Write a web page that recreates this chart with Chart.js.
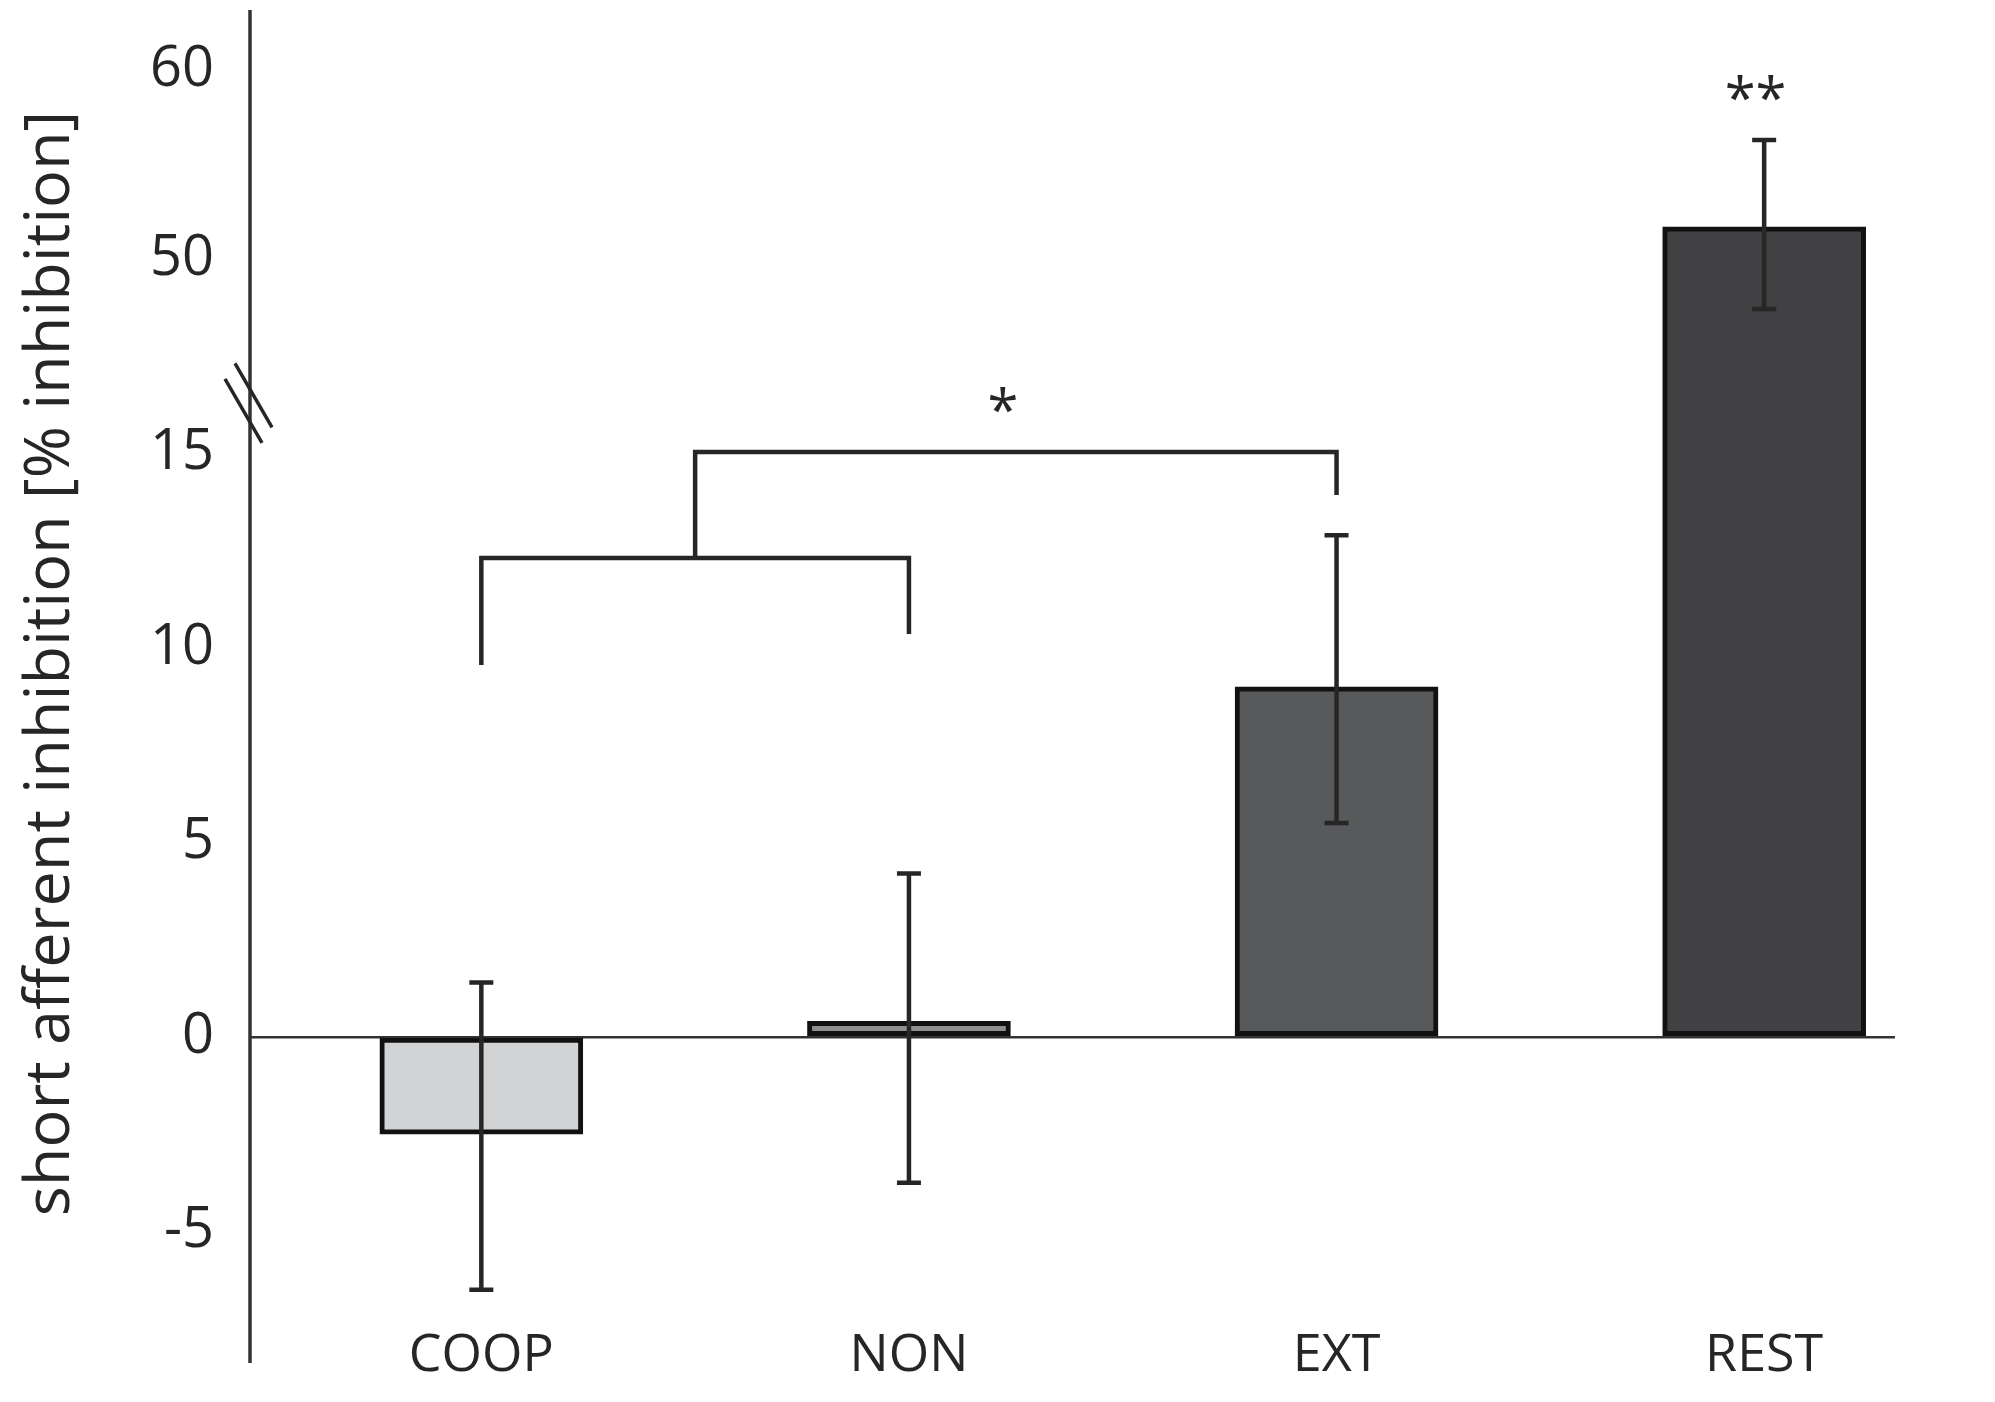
<!DOCTYPE html>
<html>
<head>
<meta charset="utf-8">
<script src="https://cdn.jsdelivr.net/npm/chart.js@4.4.1/dist/chart.umd.min.js"></script>
<style>
  html, body { margin: 0; padding: 0; background: #fff; }
  #wrap { width: 1995px; height: 1402px; }
</style>
</head>
<body>
<div id="wrap"><canvas id="saiChart"></canvas></div>
<script>
const categories = ['COOP', 'NON', 'EXT', 'REST'];
const meanSAI = [-2.5, 0.4, 9.0, 51.7];
const errUp = [3.9, 3.8, 3.9, 4.6];
const errDown = [4.0, 4.15, 3.5, 4.35];
const yTickLabels = [-5, 0, 5, 10, 15, 50, 60];
const barColors = ['#d1d3d4', '#8d8e90', '#58595b', '#414042'];

// significance brackets (category index, % inhibition) and stars
const brackets = [
  [[0, 9.56], [0, 12.31], [1, 12.31], [1, 10.36]],
  [[0.5, 12.31], [0.5, 15.04], [2, 15.04], [2, 13.93]]
];
const stars = [
  { text: '*', x: 1.22, y: 16.4 },
  { text: '**', x: 2.98, y: 59.1 }
];

// broken axis: 0..15 at full scale, 50..60 compressed right above
const breakLow = 15, breakHigh = 50, upperScale = 0.485;
function toAxis(v) { return v < 30 ? v : 20 + (v - breakHigh) * upperScale; }
function fromAxis(a) { return a <= breakLow ? a : Math.round(breakHigh + (a - 20) / upperScale); }

const ink = '#262626';

const overlay = {
  id: 'overlay',
  afterDatasetsDraw(chart) {
    const { ctx, chartArea, scales: { x, y } } = chart;
    ctx.save();
    ctx.strokeStyle = ink;
    ctx.lineCap = 'butt';

    // error bars
    ctx.lineWidth = 4.5;
    meanSAI.forEach((m, i) => {
      const px = x.getPixelForValue(i);
      const top = y.getPixelForValue(toAxis(m + errUp[i]));
      const bot = y.getPixelForValue(toAxis(m - errDown[i]));
      ctx.beginPath();
      ctx.moveTo(px, top); ctx.lineTo(px, bot);
      ctx.moveTo(px - 12, top); ctx.lineTo(px + 12, top);
      ctx.moveTo(px - 12, bot); ctx.lineTo(px + 12, bot);
      ctx.stroke();
    });

    // brackets
    ctx.lineWidth = 4.5;
    ctx.lineJoin = 'miter';
    brackets.forEach(pts => {
      ctx.beginPath();
      pts.forEach(([bx, by], k) => {
        const px = x.getPixelForValue(bx), py = y.getPixelForValue(toAxis(by));
        k ? ctx.lineTo(px, py) : ctx.moveTo(px, py);
      });
      ctx.stroke();
    });

    // stars
    ctx.fillStyle = ink;
    ctx.font = '56px "Open Sans"';
    ctx.textAlign = 'center';
    ctx.textBaseline = 'alphabetic';
    stars.forEach(s => {
      ctx.fillText(s.text, x.getPixelForValue(s.x), y.getPixelForValue(toAxis(s.y)) + 31);
    });

    // y axis line, running a bit below the plot like the original
    const ax = chartArea.left;
    ctx.strokeStyle = '#333';
    ctx.lineWidth = 3.5;
    ctx.beginPath();
    ctx.moveTo(ax, chartArea.top);
    ctx.lineTo(ax, chartArea.bottom + 46);
    ctx.stroke();

    // break marks
    const yb = y.getPixelForValue(16.3);
    ctx.strokeStyle = ink;
    ctx.lineWidth = 3.5;
    [[-6.5, 8], [3.5, -7.5]].forEach(([dx, dy]) => {
      ctx.beginPath();
      ctx.moveTo(ax + dx - 18.5, yb + dy - 32);
      ctx.lineTo(ax + dx + 18.5, yb + dy + 32);
      ctx.stroke();
    });
    ctx.restore();
  }
};

new Chart(document.getElementById('saiChart'), {
  type: 'bar',
  data: {
    datasets: [{
      data: meanSAI.map((v, i) => ({ x: i, y: toAxis(v) })),
      backgroundColor: barColors,
      borderColor: '#111',
      borderWidth: 5,
      borderSkipped: false,
      barThickness: 203
    }]
  },
  options: {
    responsive: true,
    maintainAspectRatio: false,
    devicePixelRatio: 1,
    animation: false,
    layout: { padding: { top: 10, right: 100, bottom: 10, left: 0 } },
    plugins: {
      legend: { display: false },
      tooltip: { enabled: false }
    },
    scales: {
      x: {
        type: 'linear',
        min: -0.541,
        max: 3.306,
        offset: false,
        afterFit: s => {
          s.height = 75;
          s.paddingLeft = 0;
          s.paddingRight = 0;
        },
        grid: { display: false },
        border: { display: false },
        afterBuildTicks: s => { s.ticks = categories.map((_, i) => ({ value: i })); },
        ticks: {
          autoSkip: false,
          maxRotation: 0,
          padding: 0,
          color: ink,
          font: { family: '"Open Sans", sans-serif', size: 52 },
          callback: v => categories[v]
        }
      },
      y: {
        min: -7.2,
        max: 26.4,
        afterFit: s => {
          s.width = 250;
          s.paddingTop = 0;
          s.paddingBottom = 0;
        },
        afterBuildTicks: s => { s.ticks = yTickLabels.map(v => ({ value: toAxis(v) })); },
        grid: {
          drawTicks: false,
          lineWidth: 2.5,
          color: c => (c.tick && c.tick.value === 0 ? '#333' : 'rgba(0,0,0,0)')
        },
        border: { display: false },
        ticks: {
          padding: 36,
          color: ink,
          font: { family: '"Open Sans", sans-serif', size: 56 },
          callback: v => fromAxis(v)
        },
        title: {
          display: true,
          text: 'short afferent inhibition [% inhibition]',
          color: ink,
          padding: { top: 13, bottom: 0 },
          font: { family: '"Open Sans", sans-serif', size: 63 }
        }
      }
    }
  },
  plugins: [overlay]
});
</script>
</body>
</html>
